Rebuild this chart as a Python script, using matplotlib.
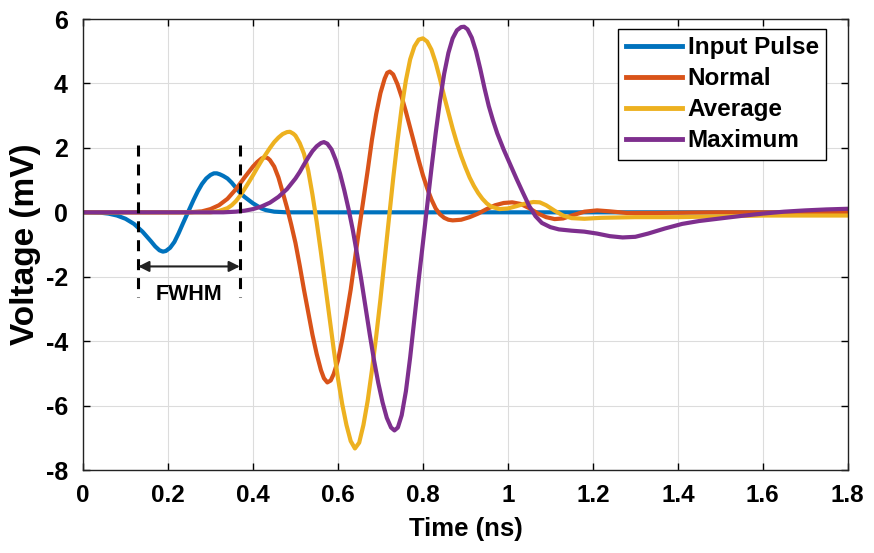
import matplotlib
matplotlib.use("Agg")
import matplotlib.pyplot as plt
from matplotlib import font_manager

# Prefer an Arial-like bold face; use a narrow variant for horizontal text when one exists
installed = {f.name for f in font_manager.fontManager.ttflist}
narrow = None
for cand in ['Liberation Sans Narrow', 'Arial Narrow', 'DejaVu Sans Condensed']:
    if cand in installed:
        narrow = cand
        break
base = 'Liberation Sans' if 'Liberation Sans' in installed else 'DejaVu Sans'
h_family = [narrow, base] if narrow else [base]

plt.rcParams['font.family'] = [base, 'DejaVu Sans']
plt.rcParams['font.weight'] = 'bold'
plt.rcParams['axes.unicode_minus'] = False

# Time samples (ns) and voltages (mV) for each trace
t_input = [0.0, 0.04, 0.06, 0.08, 0.10, 0.12, 0.14, 0.16, 0.17, 0.18, 0.188, 0.195, 0.205,
           0.215, 0.225, 0.235, 0.247, 0.26, 0.27, 0.28, 0.29, 0.30, 0.308, 0.315, 0.322,
           0.33, 0.34, 0.35, 0.36, 0.37, 0.38, 0.39, 0.40, 0.41, 0.42, 0.43, 0.45, 0.48, 1.80]
v_input = [0.0, -0.01, -0.04, -0.10, -0.20, -0.36, -0.60, -0.90, -1.06, -1.18, -1.22, -1.20, -1.10,
           -0.92, -0.65, -0.35, 0.0, 0.38, 0.65, 0.88, 1.05, 1.16, 1.21, 1.21, 1.18,
           1.13, 1.05, 0.92, 0.76, 0.60, 0.48, 0.38, 0.28, 0.20, 0.12, 0.07, 0.02, 0.0, 0.0]

t_normal = [0.0, 0.25, 0.28, 0.30, 0.32, 0.34, 0.36, 0.37, 0.38, 0.39, 0.40, 0.41, 0.42, 0.428,
            0.435, 0.44, 0.45, 0.46, 0.47, 0.48, 0.49, 0.50, 0.51, 0.52, 0.53, 0.54, 0.55, 0.56,
            0.567, 0.575, 0.583, 0.59, 0.60, 0.61, 0.62, 0.63, 0.64, 0.65, 0.66, 0.67, 0.68,
            0.69, 0.70, 0.71, 0.716, 0.722, 0.73, 0.74, 0.75, 0.76, 0.77, 0.78, 0.79, 0.80,
            0.81, 0.82, 0.83, 0.84, 0.85, 0.86, 0.87, 0.89, 0.91, 0.93, 0.95, 0.97, 0.99,
            1.01, 1.03, 1.05, 1.07, 1.09, 1.11, 1.13, 1.15, 1.18, 1.21, 1.24, 1.28, 1.35,
            1.50, 1.80]
v_normal = [0.0, 0.0, 0.03, 0.10, 0.22, 0.42, 0.72, 0.90, 1.08, 1.25, 1.42, 1.56, 1.67, 1.71,
            1.68, 1.62, 1.42, 1.08, 0.62, 0.15, -0.38, -0.95, -1.65, -2.40, -3.10, -3.80, -4.40, -4.90,
            -5.15, -5.28, -5.22, -5.02, -4.60, -3.95, -3.20, -2.40, -1.45, -0.50, 0.40, 1.30, 2.25,
            3.05, 3.70, 4.15, 4.33, 4.37, 4.28, 3.98, 3.58, 3.12, 2.62, 2.12, 1.62, 1.15,
            0.75, 0.40, 0.12, -0.06, -0.17, -0.23, -0.25, -0.23, -0.15, -0.04, 0.10, 0.22, 0.29,
            0.31, 0.26, 0.13, -0.03, -0.15, -0.21, -0.19, -0.10, 0.02, 0.06, 0.03, -0.02, -0.02,
            0.0, 0.0]

t_average = [0.0, 0.30, 0.32, 0.34, 0.35, 0.36, 0.37, 0.38, 0.39, 0.40, 0.41, 0.42, 0.43, 0.44,
             0.45, 0.46, 0.47, 0.48, 0.487, 0.495, 0.50, 0.51, 0.52, 0.53, 0.54, 0.55, 0.56,
             0.57, 0.58, 0.59, 0.60, 0.61, 0.62, 0.63, 0.64, 0.65, 0.66, 0.67, 0.68, 0.69,
             0.70, 0.71, 0.72, 0.73, 0.74, 0.75, 0.76, 0.77, 0.78, 0.79, 0.80, 0.81, 0.82,
             0.83, 0.84, 0.85, 0.86, 0.87, 0.88, 0.89, 0.90, 0.91, 0.92, 0.93, 0.94, 0.95,
             0.96, 0.98, 1.00, 1.02, 1.04, 1.06, 1.075, 1.09, 1.11, 1.13, 1.15, 1.18, 1.22,
             1.30, 1.40, 1.60, 1.80]
v_average = [0.0, 0.0, 0.04, 0.13, 0.22, 0.35, 0.52, 0.72, 0.93, 1.15, 1.38, 1.60, 1.80, 2.00,
             2.18, 2.32, 2.43, 2.49, 2.50, 2.44, 2.38, 2.15, 1.82, 1.30, 0.55, -0.30, -1.25,
             -2.25, -3.25, -4.25, -5.15, -5.95, -6.60, -7.10, -7.33, -7.15, -6.60, -5.85, -4.90, -3.85,
             -2.70, -1.45, -0.20, 1.05, 2.20, 3.25, 4.10, 4.75, 5.15, 5.36, 5.40, 5.30, 5.05,
             4.65, 4.15, 3.60, 3.10, 2.60, 2.15, 1.75, 1.40, 1.08, 0.82, 0.60, 0.42, 0.28,
             0.18, 0.10, 0.12, 0.19, 0.27, 0.32, 0.31, 0.22, 0.05, -0.10, -0.18, -0.20, -0.17,
             -0.15, -0.15, -0.10, -0.10]

t_maximum = [0.0, 0.33, 0.36, 0.38, 0.40, 0.42, 0.44, 0.46, 0.48, 0.50, 0.51, 0.52, 0.53, 0.54,
             0.55, 0.56, 0.567, 0.575, 0.585, 0.595, 0.605, 0.615, 0.625, 0.635, 0.645, 0.655,
             0.665, 0.675, 0.685, 0.695, 0.705, 0.715, 0.725, 0.733, 0.741, 0.75, 0.76, 0.77,
             0.78, 0.79, 0.80, 0.81, 0.82, 0.83, 0.84, 0.85, 0.86, 0.87, 0.88, 0.89, 0.897,
             0.905, 0.915, 0.925, 0.935, 0.945, 0.955, 0.965, 0.975, 0.99, 1.005, 1.02, 1.035,
             1.05, 1.065, 1.08, 1.10, 1.12, 1.15, 1.18, 1.21, 1.24, 1.27, 1.30, 1.33, 1.37,
             1.41, 1.45, 1.50, 1.55, 1.60, 1.65, 1.70, 1.75, 1.80]
v_maximum = [0.0, 0.0, 0.02, 0.05, 0.10, 0.18, 0.30, 0.48, 0.72, 1.05, 1.25, 1.48, 1.70, 1.90,
             2.05, 2.15, 2.18, 2.13, 1.95, 1.62, 1.20, 0.68, 0.10, -0.55, -1.30, -2.10,
             -2.95, -3.80, -4.60, -5.30, -5.90, -6.38, -6.68, -6.77, -6.68, -6.30, -5.55, -4.50,
             -3.30, -2.10, -0.95, 0.20, 1.35, 2.45, 3.45, 4.30, 4.95, 5.40, 5.65, 5.75, 5.76,
             5.68, 5.42, 5.00, 4.45, 3.85, 3.30, 2.85, 2.45, 1.95, 1.50, 1.05, 0.62,
             0.20, -0.12, -0.33, -0.46, -0.53, -0.57, -0.60, -0.66, -0.74, -0.78, -0.76, -0.66, -0.50,
             -0.36, -0.27, -0.19, -0.11, -0.04, 0.02, 0.06, 0.09, 0.11]

series = [
    ("Input Pulse", t_input, v_input, "#0072BD"),
    ("Normal", t_normal, v_normal, "#D95319"),
    ("Average", t_average, v_average, "#EDB120"),
    ("Maximum", t_maximum, v_maximum, "#7E2F8E"),
]

x_ticks = [0, 0.2, 0.4, 0.6, 0.8, 1.0, 1.2, 1.4, 1.6, 1.8]
x_tick_labels = ["0", "0.2", "0.4", "0.6", "0.8", "1", "1.2", "1.4", "1.6", "1.8"]
y_ticks = [-8, -6, -4, -2, 0, 2, 4, 6]

# FWHM marker: edges of the pulse width (ns) and vertical extent (mV)
fwhm_left, fwhm_right = 0.13, 0.369
fwhm_bottom, fwhm_top = -2.64, 2.08
fwhm_arrow_y = -1.68

fig = plt.figure(figsize=(8.74, 5.53), dpi=100)
ax = fig.add_axes([0.095, 0.150, 0.875, 0.8156])

for name, t, v, c in series:
    ax.plot(t, v, color=c, lw=3.0, label=name, solid_joinstyle='round')

# dashed guides drawn top-down so the pattern starts with a full dash
for xe in (fwhm_left, fwhm_right):
    ax.plot([xe, xe], [fwhm_top, fwhm_bottom], color='black', lw=2.2,
            linestyle=(0, (3.6, 2.6)))
ax.annotate("", xy=(fwhm_left, fwhm_arrow_y), xytext=(fwhm_right, fwhm_arrow_y),
            arrowprops=dict(arrowstyle='<|-|>', color='#222222', lw=1.5,
                            mutation_scale=16, shrinkA=0, shrinkB=0))
ax.text((fwhm_left + fwhm_right) / 2, -2.55, "FWHM", ha='center', va='center',
        fontsize=15.5, fontweight='bold', family=h_family)

ax.set_xlim(0, 1.8)
ax.set_ylim(-8, 6)
ax.set_xticks(x_ticks)
ax.set_xticklabels(x_tick_labels)
ax.set_yticks(y_ticks)
ax.tick_params(axis='x', direction='in', length=5, width=1.0, top=True,
               labelsize=17.5, pad=10)
ax.tick_params(axis='y', direction='in', length=5, width=1.0, right=True,
               labelsize=18, pad=11)
for lab in ax.get_xticklabels():
    lab.set_fontweight('bold')
    lab.set_family(h_family)
for lab in ax.get_yticklabels():
    lab.set_fontweight('bold')
ax.grid(True, color='#dcdcdc', lw=0.8)
ax.set_axisbelow(True)
for s in ax.spines.values():
    s.set_linewidth(1.0)
    s.set_color('#222222')

ax.set_xlabel("Time (ns)", fontsize=18.5, fontweight='bold', labelpad=7, family=h_family)
ax.set_ylabel("Voltage (mV)", fontsize=24, fontweight='bold', labelpad=3)

leg = ax.legend(loc='upper right', bbox_to_anchor=(826 / 874, 1 - 29 / 553),
                bbox_transform=fig.transFigure, borderaxespad=0,
                prop={'weight': 'bold', 'size': 17.5, 'family': [base]}, handlelength=2.3,
                handletextpad=0.25, labelspacing=0.33, borderpad=0.3,
                fancybox=False, framealpha=1, edgecolor='black')
leg.get_frame().set_linewidth(1.0)
for ln in leg.get_lines():
    ln.set_linewidth(3.5)

fig.savefig("out.png", dpi=100)
